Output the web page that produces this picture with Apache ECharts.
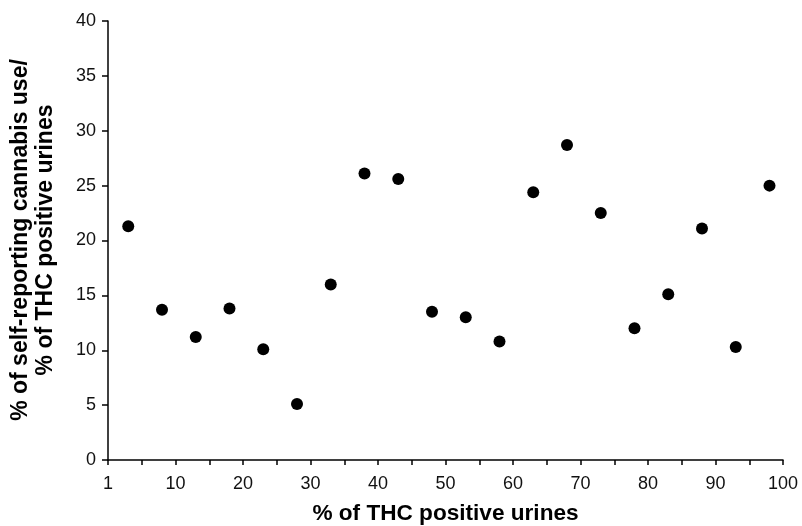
<!DOCTYPE html>
<html>
<head>
<meta charset="utf-8">
<script src="https://cdn.jsdelivr.net/npm/echarts@6/dist/echarts.min.js"></script>
<style>
html,body{margin:0;padding:0;background:#fff;}
#chart{width:802px;height:526px;}
</style>
</head>
<body>
<div id="chart"></div>
<script>
// Data
const xValues = [3, 8, 13, 18, 23, 28, 33, 38, 43, 48, 53, 58, 63, 68, 73, 78, 83, 88, 93, 98];
const yValues = [21.3, 13.7, 11.2, 13.8, 10.1, 5.1, 16.0, 26.1, 25.6, 13.5, 13.0, 10.8, 24.4, 28.7, 22.5, 12.0, 15.1, 21.1, 10.3, 25.0];
const xTitle = '% of THC positive urines';
const yTitleLines = ['% of self-reporting cannabis use/', '% of THC positive urines'];

const points = xValues.map((x, i) => [x, yValues[i]]);
const font = '"Liberation Sans", Arial, Helvetica, sans-serif';

const chart = echarts.init(document.getElementById('chart'), null, {renderer: 'canvas'});
chart.setOption({
  animation: false,
  backgroundColor: '#ffffff',
  grid: {left: 108, right: 19, top: 21, bottom: 66, containLabel: false, outerBoundsMode: 'none'},
  xAxis: {
    type: 'value',
    min: 0, max: 100, interval: 5,
    name: xTitle,
    nameLocation: 'middle',
    nameGap: 42,
    nameTextStyle: {fontFamily: font, fontSize: 22.6, fontWeight: 'bold', color: '#000'},
    axisLine: {show: true, lineStyle: {color: '#000', width: 1.5}},
    axisTick: {show: true, inside: false, length: 5, lineStyle: {color: '#000', width: 1.5}},
    axisLabel: {
      margin: 15, fontFamily: font, fontSize: 18, color: '#111',
      formatter: v => (v === 0 ? '1' : (v % 10 === 0 ? String(v) : ''))
    },
    splitLine: {show: false}
  },
  yAxis: {
    type: 'value',
    min: 0, max: 40, interval: 5,
    axisLine: {show: true, lineStyle: {color: '#000', width: 1.5}},
    axisTick: {show: true, inside: false, length: 6, lineStyle: {color: '#000', width: 1.5}},
    axisLabel: {margin: 12, fontFamily: font, fontSize: 18, color: '#111'},
    splitLine: {show: false}
  },
  graphic: [{
    type: 'text',
    x: 33.5, y: 240,
    rotation: Math.PI / 2,
    style: {
      text: yTitleLines.join('\n'),
      fontFamily: font, fontSize: 23, fontWeight: 'bold', fill: '#000',
      align: 'center', verticalAlign: 'middle', lineHeight: 25
    }
  }],
  series: [{
    type: 'scatter',
    data: points,
    symbol: 'circle',
    symbolSize: 12,
    itemStyle: {color: '#000', opacity: 1}
  }]
});
</script>
</body>
</html>
